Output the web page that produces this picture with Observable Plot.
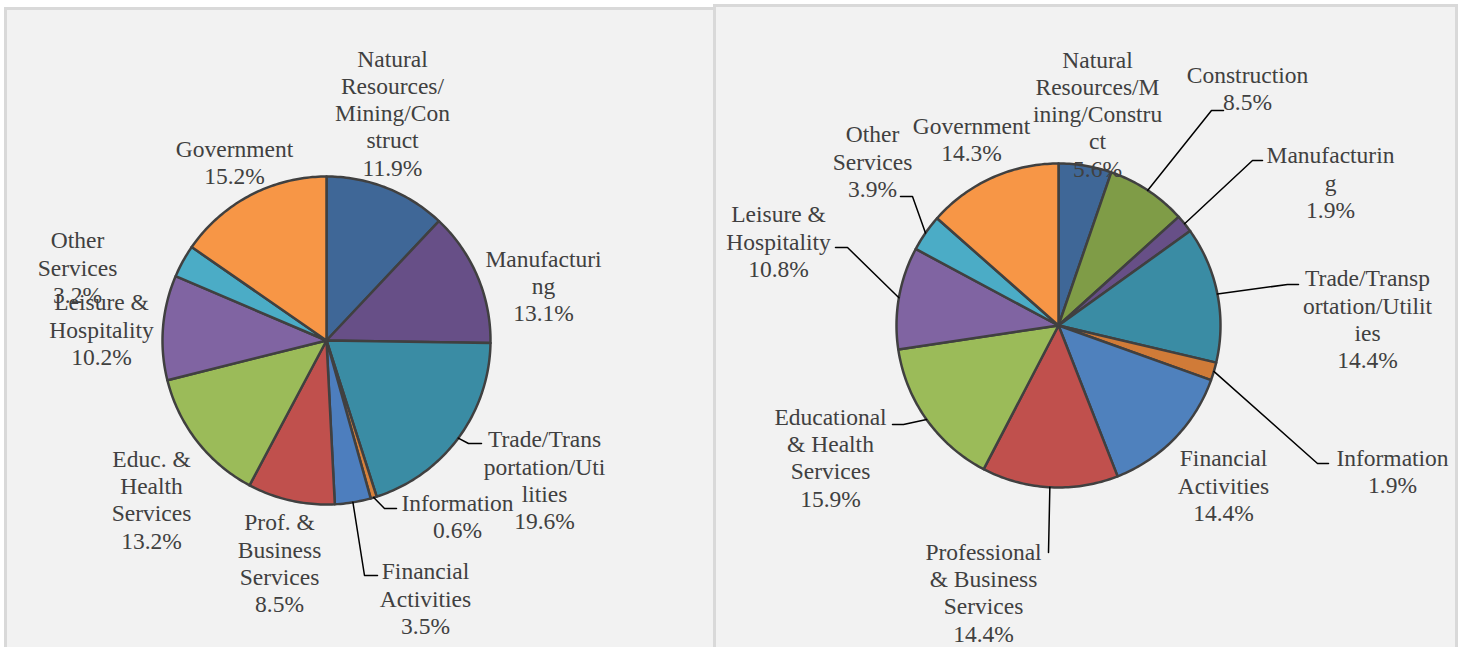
<!DOCTYPE html>
<html><head><meta charset="utf-8">
<script src="https://cdn.jsdelivr.net/npm/d3@7"></script>
<script src="https://cdn.jsdelivr.net/npm/@observablehq/plot@0.6"></script>
<style>
html,body{margin:0;padding:0;background:#fff;width:1473px;height:647px;overflow:hidden;position:relative}
.panel{position:absolute;box-sizing:border-box;border:3px solid #d9d9d9;background:#f2f2f2}
#chart{position:absolute;left:0;top:0}
</style></head><body>
<div class="panel" style="left:4px;top:7px;width:712px;height:700px"></div>
<div class="panel" style="left:713px;top:4px;width:745px;height:700px"></div>
<div id="chart"></div>
<script>
// ---------- DATA ----------
const leftCategories = ["Natural Resources/Mining/Construct", "Manufacturing", "Trade/Transportation/Utilities", "Information", "Financial Activities", "Prof. & Business Services", "Educ. & Health Services", "Leisure & Hospitality", "Other Services", "Government"];
const leftValues = [11.9, 13.1, 19.6, 0.6, 3.5, 8.5, 13.2, 10.2, 3.2, 15.2];
const leftLabelText = ["Natural\nResources/\nMining/Con\nstruct", "Manufacturi\nng", "Trade/Trans\nportation/Uti\nlities", "Information", "Financial\nActivities", "Prof. &\nBusiness\nServices", "Educ. &\nHealth\nServices", "Leisure &\nHospitality", "Other\nServices", "Government"];

const rightCategories = ["Natural Resources/Mining/Construct", "Construction", "Manufacturing", "Trade/Transportation/Utilities", "Information", "Financial Activities", "Professional & Business Services", "Educational & Health Services", "Leisure & Hospitality", "Other Services", "Government"];
const rightValues = [5.6, 8.5, 1.9, 14.4, 1.9, 14.4, 14.4, 15.9, 10.8, 3.9, 14.3];
const rightLabelText = ["Natural\nResources/M\nining/Constru\nct", "Construction", "Manufacturin\ng", "Trade/Transp\nortation/Utilit\nies", "Information", "Financial\nActivities", "Professional\n& Business\nServices", "Educational\n& Health\nServices", "Leisure &\nHospitality", "Other\nServices", "Government"];

// ---------- STYLES ----------
const leftColors = ["#3f6797", "#674f87", "#3a8ca4", "#d8823c", "#4d7ebe", "#c0504d", "#9bbb59", "#8064a2", "#4bacc6", "#f79646"];
const rightColors = ["#3f6797", "#7f9c47", "#674f87", "#3a8ca4", "#d07b38", "#4f81bd", "#c0504d", "#9bbb59", "#8064a2", "#4bacc6", "#f79646"];

// ---------- LAYOUT ----------
const leftGeom = {cx: 326, cy: 340, r: 164};
const rightGeom = {cx: 1058, cy: 325, r: 162};
const leftLabelPos = [[392,112],[543,285],[544,479],[457,515],[425,597.5],[279,562],[151,498.5],[101,328.5],[77,266.5],[234,161]];
const rightLabelPos = [[1097,113],[1247,87],[1330,181.5],[1367,318],[1392,470],[1223,484.5],[983,591.5],[830,456.5],[778,240.5],[872,160.5],[971,138.5]];
const leftLeaderBends = {2: [[468,443],[481,443]], 3: [[384,508],[396,508]], 4: [[364,575],[377,575]]};
const rightLeaderBends = {1: [[1211,110],[1223,110]], 2: [[1252,160],[1262,160]], 3: [[1287,284],[1298,284]], 4: [[1317,463],[1328,463]], 6: [[1048,552]], 7: [[903,424],[892,424]], 8: [[847,247],[835,247]], 9: [[912,196],[900,196]]};

// ---------- BUILD ----------
const slicePts = [], leaderPts = [], labels = [];
function buildPie(id, cats, vals, texts, colors, g, labelPos, bends) {
  const arcs = d3.pie().sort(null).startAngle(0).endAngle(2 * Math.PI)(vals);
  arcs.forEach((a, i) => {
    const key = id + "-" + i;
    slicePts.push({key, color: colors[i], x: g.cx, y: g.cy});
    const n = Math.max(2, Math.ceil((a.endAngle - a.startAngle) / (Math.PI / 180)));
    for (let k = 0; k <= n; k++) {
      const t = a.startAngle + (a.endAngle - a.startAngle) * k / n;
      slicePts.push({key, color: colors[i], x: g.cx + g.r * Math.sin(t), y: g.cy - g.r * Math.cos(t)});
    }
    labels.push({x: labelPos[i][0], y: labelPos[i][1], text: texts[i] + "\n" + vals[i].toFixed(1) + "%", cat: cats[i]});
    if (bends[i]) {
      const m = (a.startAngle + a.endAngle) / 2;
      leaderPts.push({key, x: g.cx + g.r * Math.sin(m), y: g.cy - g.r * Math.cos(m)});
      bends[i].forEach(p => leaderPts.push({key, x: p[0], y: p[1]}));
    }
  });
}
buildPie("L", leftCategories, leftValues, leftLabelText, leftColors, leftGeom, leftLabelPos, leftLeaderBends);
buildPie("R", rightCategories, rightValues, rightLabelText, rightColors, rightGeom, rightLabelPos, rightLeaderBends);

const chart = Plot.plot({
  width: 1473, height: 647,
  margin: 0,
  style: "background: transparent;",
  x: {domain: [0, 1473], range: [0, 1473], axis: null},
  y: {domain: [0, 647], range: [0, 647], axis: null},
  color: {type: "identity"},
  marks: [
    Plot.line(slicePts, {x: "x", y: "y", z: "key", fill: "color", stroke: "#404040", strokeWidth: 2.5, strokeLinejoin: "round", curve: "linear-closed"}),
    Plot.line(leaderPts, {x: "x", y: "y", z: "key", stroke: "#000", strokeWidth: 1.5}),
    Plot.text(labels, {x: "x", y: "y", text: "text", fill: "#404040", fontSize: 23.5, fontFamily: "Liberation Serif", lineHeight: 1.16, lineAnchor: "middle", textAnchor: "middle"})
  ]
});
chart.setAttribute("font-family", "Liberation Serif");
document.getElementById("chart").appendChild(chart);
</script>
</body></html>
